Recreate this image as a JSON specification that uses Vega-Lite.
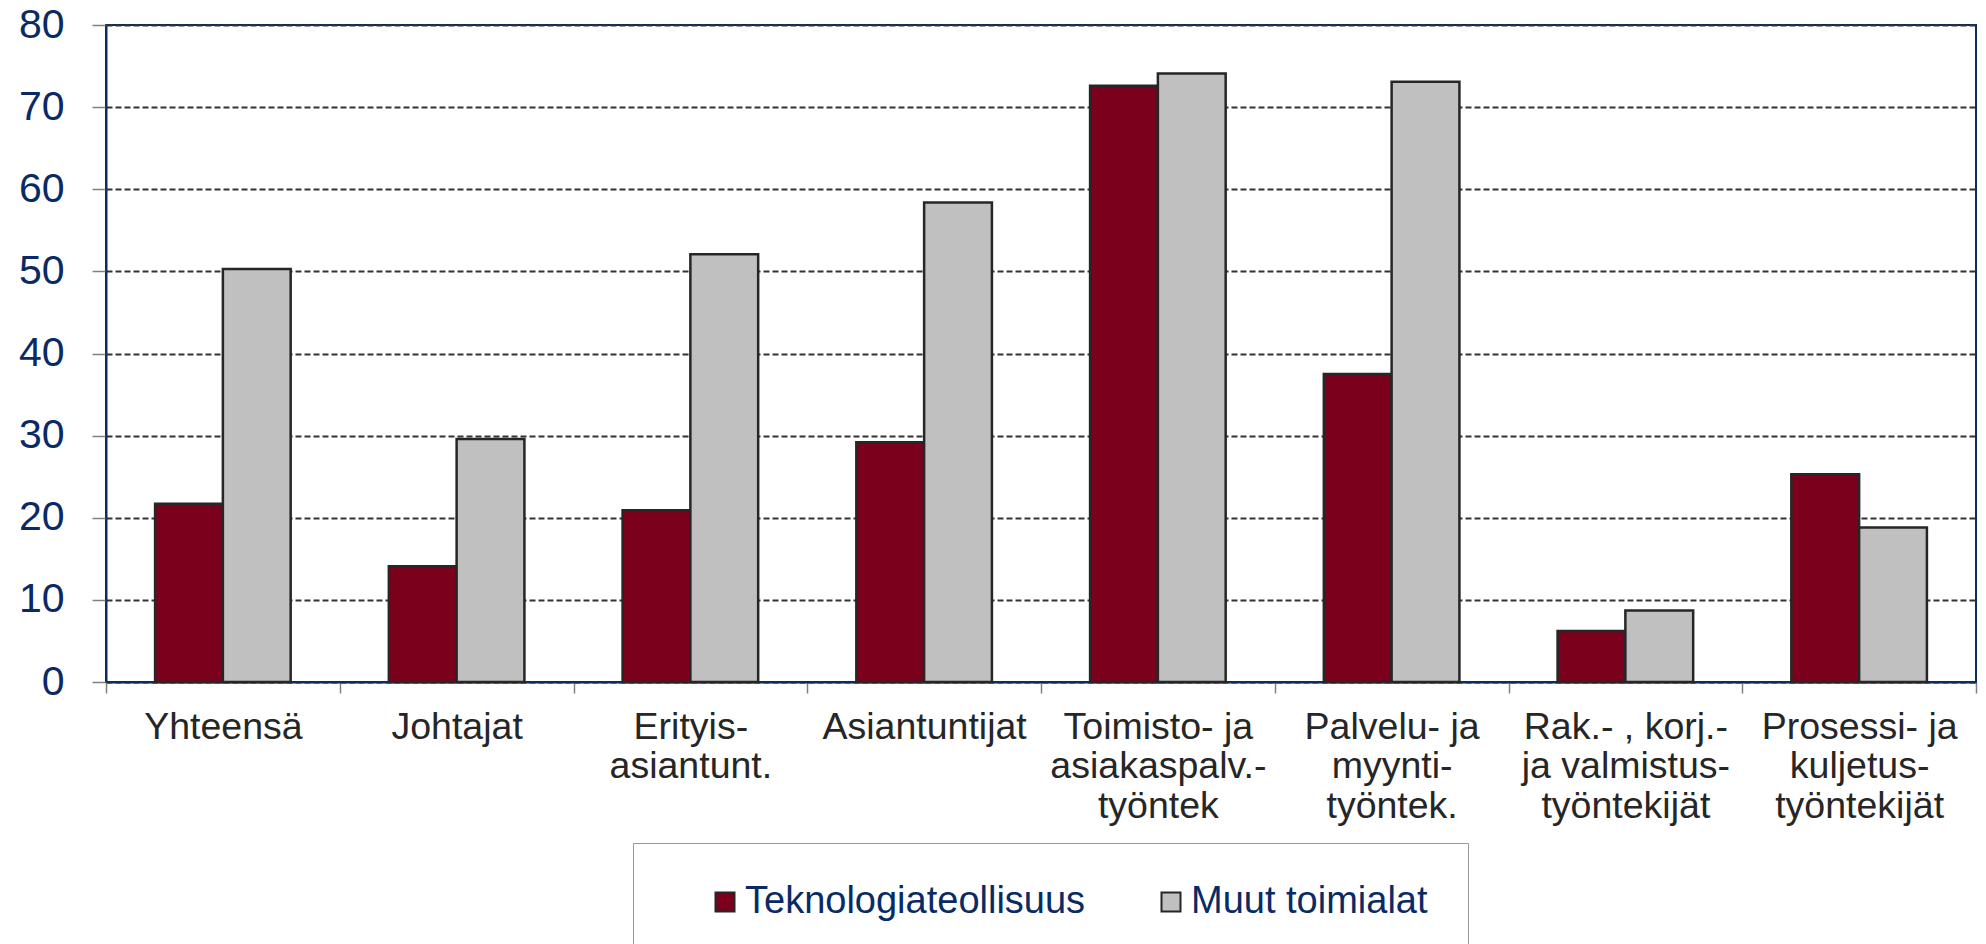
{
  "$schema": "https://vega.github.io/schema/vega-lite/v6.json",
  "width": 1870,
  "height": 657,
  "autosize": "none",
  "padding": {"left": 106, "top": 25, "right": 10, "bottom": 262},
  "background": "white",
  "data": {
    "values": [
      {"cat": "Yhteensä", "series": "Teknologiateollisuus", "value": 21.7},
      {"cat": "Yhteensä", "series": "Muut toimialat", "value": 50.3},
      {"cat": "Johtajat", "series": "Teknologiateollisuus", "value": 14.1},
      {"cat": "Johtajat", "series": "Muut toimialat", "value": 29.6},
      {"cat": "Erityis-|asiantunt.", "series": "Teknologiateollisuus", "value": 20.9},
      {"cat": "Erityis-|asiantunt.", "series": "Muut toimialat", "value": 52.1},
      {"cat": "Asiantuntijat", "series": "Teknologiateollisuus", "value": 29.2},
      {"cat": "Asiantuntijat", "series": "Muut toimialat", "value": 58.4},
      {"cat": "Toimisto- ja|asiakaspalv.-|työntek", "series": "Teknologiateollisuus", "value": 72.6},
      {"cat": "Toimisto- ja|asiakaspalv.-|työntek", "series": "Muut toimialat", "value": 74.1},
      {"cat": "Palvelu- ja|myynti-|työntek.", "series": "Teknologiateollisuus", "value": 37.5},
      {"cat": "Palvelu- ja|myynti-|työntek.", "series": "Muut toimialat", "value": 73.1},
      {"cat": "Rak.- , korj.-|ja valmistus-|työntekijät", "series": "Teknologiateollisuus", "value": 6.2},
      {"cat": "Rak.- , korj.-|ja valmistus-|työntekijät", "series": "Muut toimialat", "value": 8.7},
      {"cat": "Prosessi- ja|kuljetus-|työntekijät", "series": "Teknologiateollisuus", "value": 25.3},
      {"cat": "Prosessi- ja|kuljetus-|työntekijät", "series": "Muut toimialat", "value": 18.8}
    ]
  },
  "mark": {"type": "bar", "stroke": "#262626", "strokeWidth": 2.5},
  "encoding": {
    "x": {
      "field": "cat",
      "type": "nominal",
      "sort": null,
      "scale": {"paddingInner": 0, "paddingOuter": 0},
      "axis": {
        "title": null,
        "labelAngle": 0,
        "labelExpr": "split(datum.label, '|')",
        "labelFont": "Liberation Sans",
        "labelFontSize": 37.5,
        "labelLineHeight": 39.5,
        "labelColor": "#262626",
        "labelPadding": 15,
        "labelLimit": 400,
        "tickBand": "extent",
        "tickSize": 11,
        "tickColor": "#808080",
        "tickWidth": 1.5,
        "domainColor": "#0b2c5f",
        "domainWidth": 2,
        "grid": false
      }
    },
    "xOffset": {"field": "series", "type": "nominal", "sort": ["Teknologiateollisuus", "Muut toimialat"], "scale": {"paddingInner": 0, "paddingOuter": 0.724}},
    "y": {
      "field": "value",
      "type": "quantitative",
      "scale": {"domain": [0, 80], "nice": false},
      "axis": {
        "title": null,
        "values": [0, 10, 20, 30, 40, 50, 60, 70, 80],
        "labelFont": "Liberation Sans",
        "labelFontSize": 41,
        "labelColor": "#0a2a66",
        "labelPadding": 28,
        "tickSize": 14,
        "tickColor": "#808080",
        "tickWidth": 1.5,
        "domainColor": "#0b2c5f",
        "domainWidth": 2,
        "grid": true,
        "gridColor": "#333333",
        "gridWidth": 2,
        "gridDash": [6, 3]
      }
    },
    "fill": {
      "field": "series",
      "type": "nominal",
      "sort": ["Teknologiateollisuus", "Muut toimialat"],
      "scale": {"domain": ["Teknologiateollisuus", "Muut toimialat"], "range": ["#7b001c", "#c0c0c0"]},
      "legend": {
        "orient": "none",
        "legendX": 527,
        "legendY": 818,
        "direction": "horizontal",
        "title": null,
        "symbolType": "square",
        "symbolSize": 361,
        "symbolStrokeColor": "#262626",
        "symbolStrokeWidth": 2,
        "symbolOffset": 33,
        "labelFont": "Liberation Sans",
        "labelFontSize": 38,
        "labelColor": "#0a2a66",
        "labelOffset": 1,
        "labelLimit": 500,
        "columnPadding": 33,
        "padding": 40,
        "strokeColor": "#999999",
        "fillColor": "white"
      }
    }
  },
  "config": {
    "view": {"stroke": "#0b2c5f", "strokeWidth": 2}
  }
}
